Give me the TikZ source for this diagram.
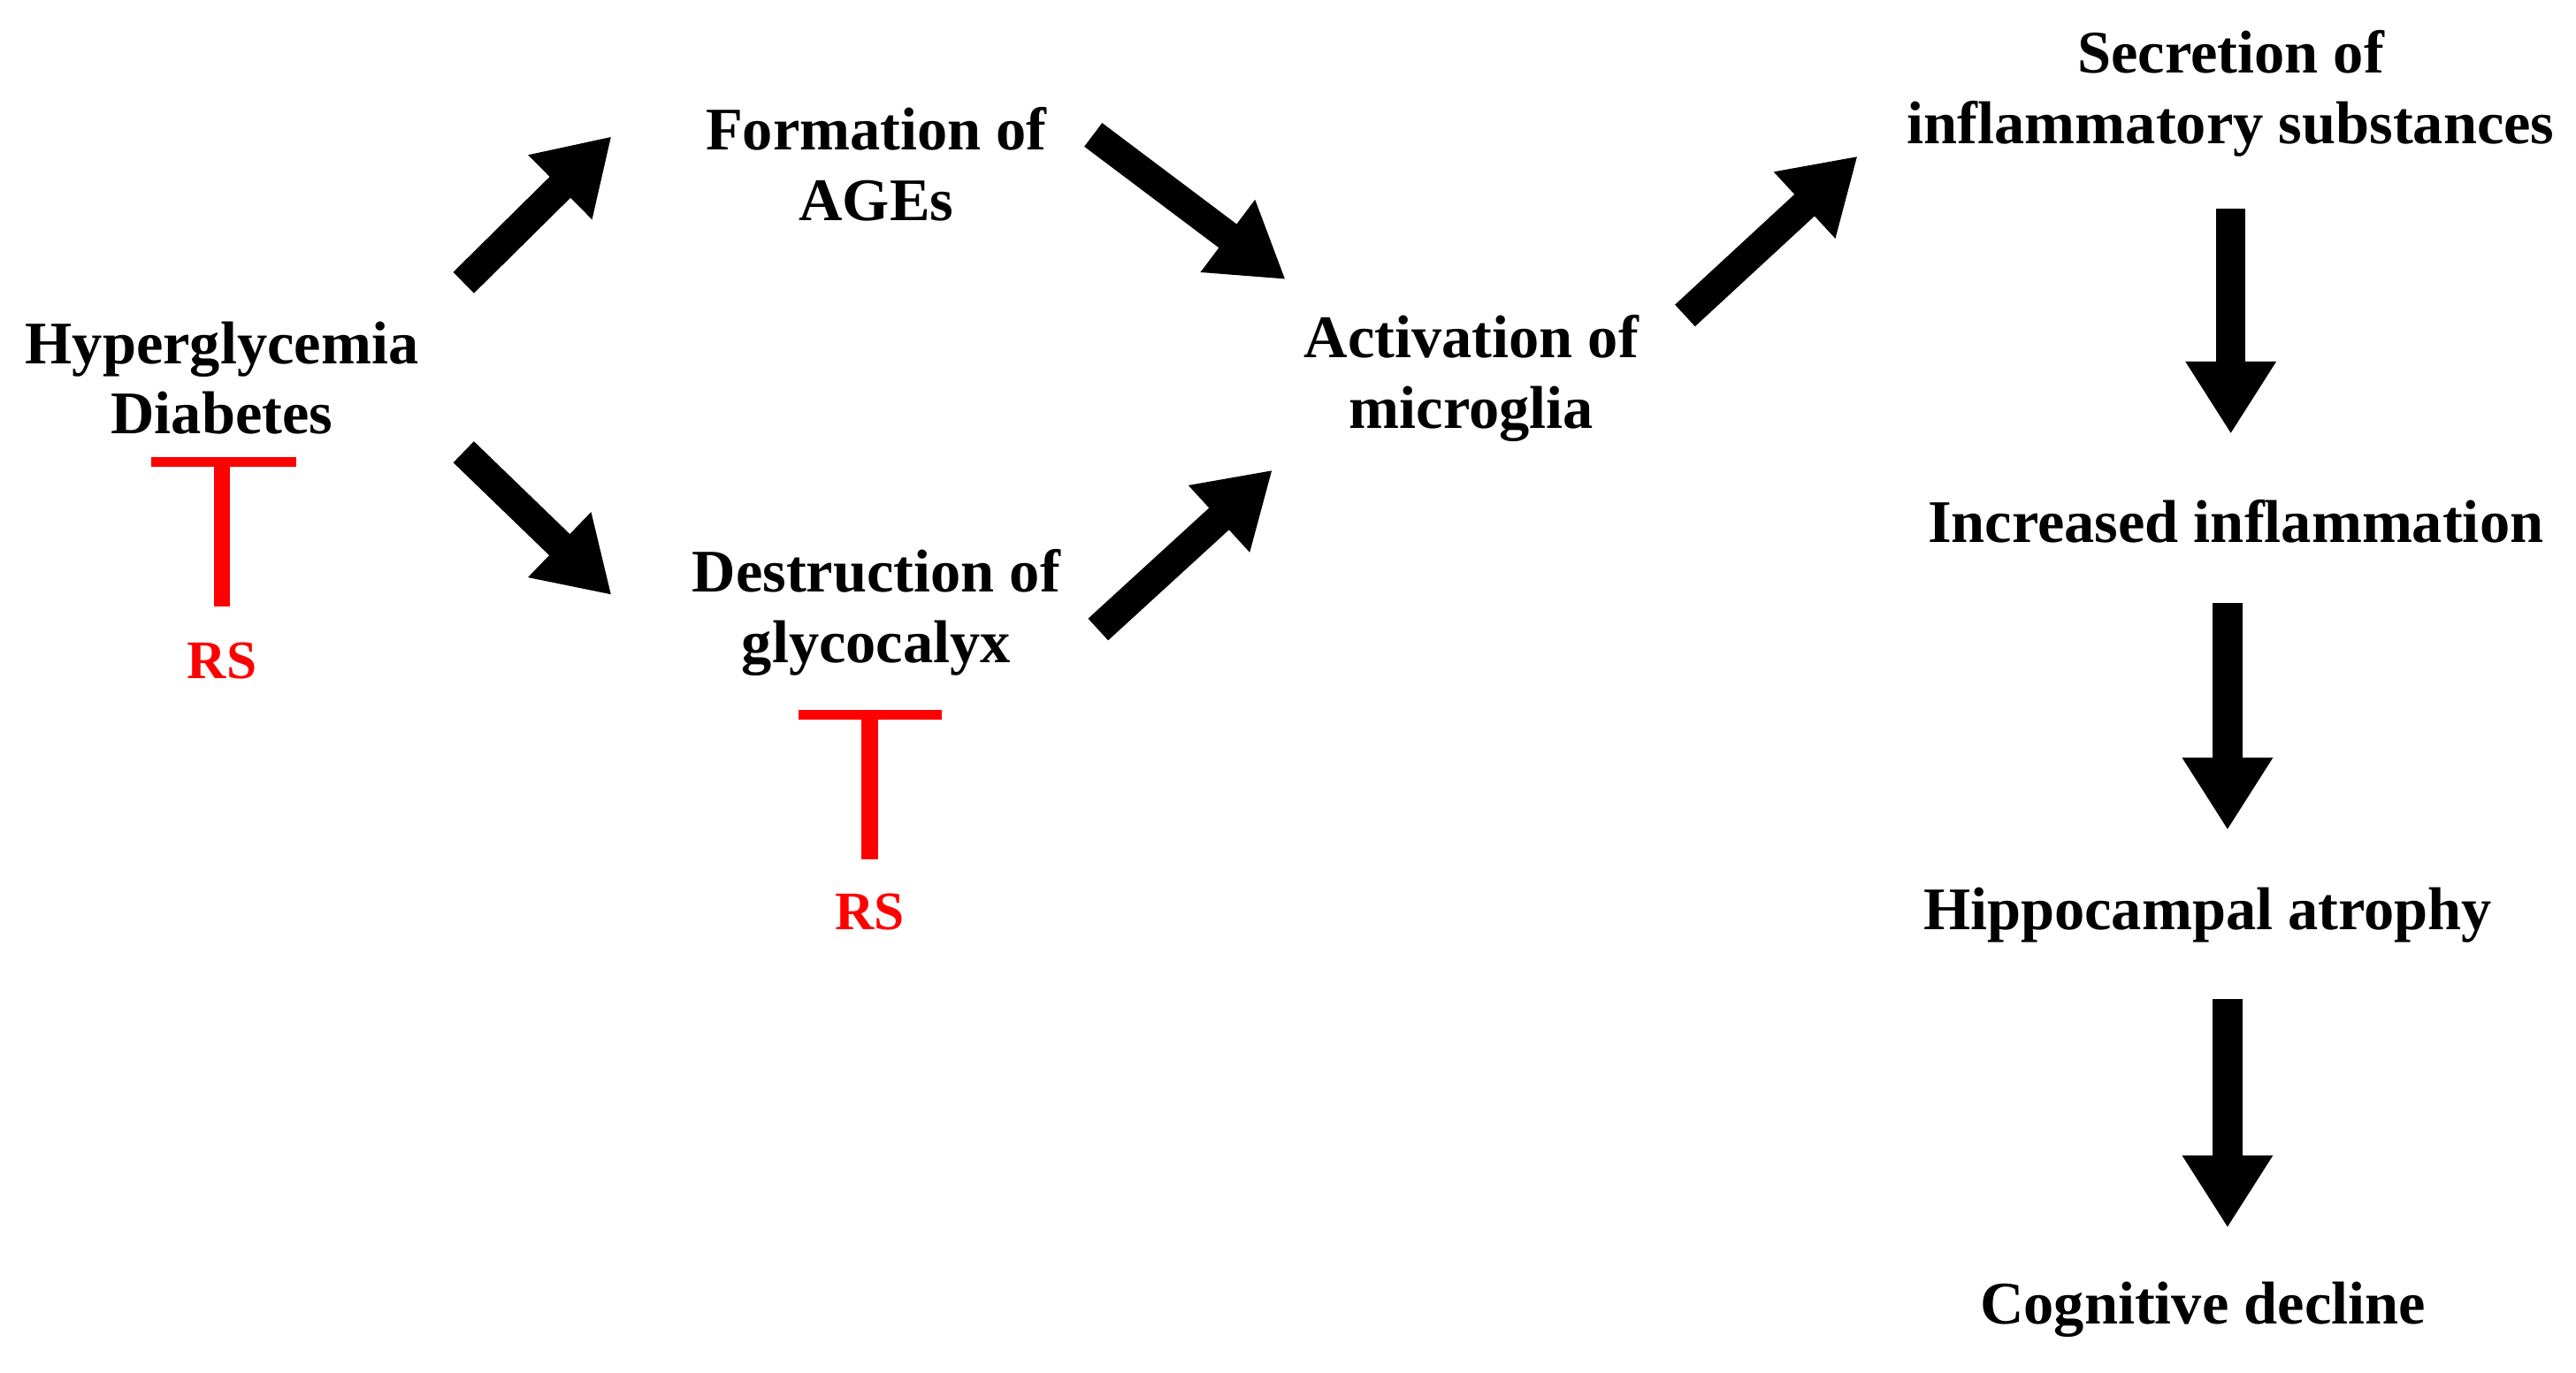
\documentclass[tikz,border=0pt]{standalone}
\usepackage{fontspec}
\setmainfont{Liberation Serif}
\usetikzlibrary{arrows.meta}
\begin{document}
\begin{tikzpicture}[x=0.5pt,y=-0.5pt,
  lbl/.style={font=\fontsize{18.4}{21.5}\selectfont\bfseries, align=center, inner sep=0pt},
  rs/.style={lbl, text=red, font=\fontsize{16.5}{20}\selectfont\bfseries},
  bigarrow/.style={line width=9pt, -{Triangle[width=26pt,length=22pt]}},
  inhib/.style={red, line width=3pt}]
\useasboundingbox (0,0) rectangle (1567,835);
\node[lbl] (hyp) at (135,230) {Hyperglycemia\\Diabetes};
\node[lbl] (age) at (533,100) {Formation of\\AGEs};
\node[lbl] (gly) at (533,373) {Destruction of\\glycocalyx};
\node[lbl] (mic) at (895,230) {Activation of\\microglia};
\node[lbl] (sec) at (1357,57) {Secretion of\\inflammatory substances};
\node[lbl] (inc) at (1360,317) {Increased inflammation};
\node[lbl] (hip) at (1343,557) {Hippocampal atrophy};
\node[lbl] (cog) at (1340,797) {Cognitive decline};
\node[rs] (rs1) at (135,402) {RS};
\node[rs] (rs2) at (529,555) {RS};
% inhibitors
\coordinate (b1l) at (92,281); \coordinate (b1r) at (180,281);
\coordinate (b1t) at (135,281); \coordinate (b1b) at (135,369);
\draw[inhib] (b1l) -- (b1r);
\draw[red, line width=5pt] (b1t) -- (b1b);
\coordinate (b2l) at (486,435); \coordinate (b2r) at (573,435);
\coordinate (b2t) at (529,435); \coordinate (b2b) at (529,523);
\draw[inhib] (b2l) -- (b2r);
\draw[red, line width=5pt] (b2t) -- (b2b);
% arrows
\coordinate (a1s) at (282,172); \coordinate (a1e) at (372,83);
\coordinate (a2s) at (282,275); \coordinate (a2e) at (372,362);
\coordinate (a3s) at (665,82); \coordinate (a3e) at (782,170);
\coordinate (a4s) at (668,383); \coordinate (a4e) at (774,286);
\coordinate (a5s) at (1025,192); \coordinate (a5e) at (1130,95);
\coordinate (a6s) at (1357,127); \coordinate (a6e) at (1357,264);
\coordinate (a7s) at (1355,367); \coordinate (a7e) at (1355,505);
\coordinate (a8s) at (1355,608); \coordinate (a8e) at (1355,747);
\foreach \i in {1,...,8} \draw[bigarrow] (a\i s) -- (a\i e);
\end{tikzpicture}
\end{document}
